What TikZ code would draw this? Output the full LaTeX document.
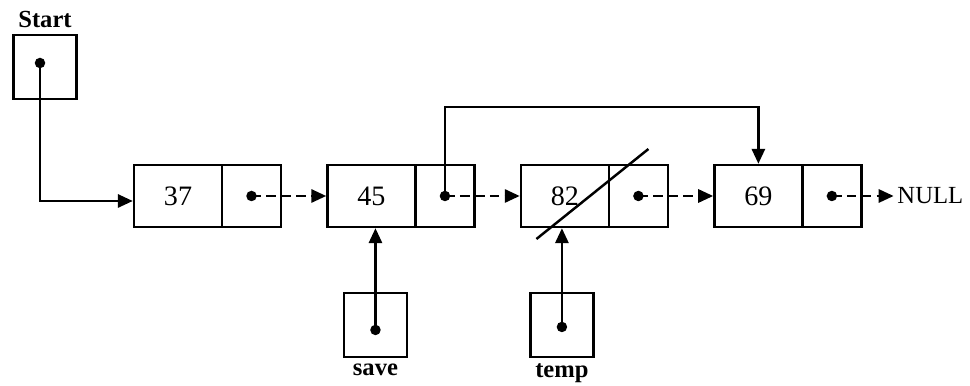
\documentclass[tikz,border=0pt]{standalone}
\usepackage{fontspec}
\setmainfont{Liberation Serif}
\usetikzlibrary{positioning, arrows.meta}

\begin{document}
\begin{tikzpicture}[
    node distance=0.88cm,
    datacell/.style={rectangle, draw, line width=1.4pt, minimum width=1.76cm, minimum height=1.24cm, inner sep=0pt, font=\fontsize{16}{18}\selectfont},
    ptrcell/.style={rectangle, draw, line width=1.4pt, minimum width=1.18cm, minimum height=1.24cm, inner sep=0pt},
    var/.style={rectangle, draw, line width=1.4pt, minimum width=1.26cm, minimum height=1.28cm, inner sep=0pt},
    vlabel/.style={font=\bfseries\fontsize{14}{16}\selectfont, inner sep=3pt},
    dot/.style={circle, fill, inner sep=0pt, minimum size=0.21cm},
    arrow/.style={-{Triangle[length=8.5pt, width=7.5pt]}, line width=1.4pt},
    link/.style={-{Triangle[length=8.5pt, width=7.5pt]}, line width=1.4pt, dash pattern=on 5.5pt off 3pt},
]
\useasboundingbox (0,0) rectangle (19.4,-7.72);

%% NODES
    % list cells
    \node[datacell] (d1) at (3.56,-3.92) {37};
    \node[ptrcell, right=-1.4pt of d1] (p1) {};
    \node[datacell, right=of p1] (d2) {45};
    \node[ptrcell, right=-1.4pt of d2] (p2) {};
    \node[datacell, right=of p2] (d3) {82};
    \node[ptrcell, right=-1.4pt of d3] (p3) {};
    \node[datacell, right=of p3] (d4) {69};
    \node[ptrcell, right=-1.4pt of d4] (p4) {};
    \node[font=\fontsize{14}{16}\selectfont, inner sep=2pt, right=0.62cm of p4] (null) {NULL};

    % pointer variables
    \node[var, label={[vlabel]above:Start}] (start) at (0.9,-1.34) {};
    \node[var, below=1.27cm of d2, xshift=0.08cm, label={[vlabel]below:save}] (save) {};
    \node[var, below=1.27cm of d3, xshift=-0.06cm, label={[vlabel]below:temp}] (temp) {};

    % dots
    \node[dot] (s0) at ([shift={(-0.1,0.08)}]start.center) {};
    \node[dot] (v1) at ([yshift=-0.1cm]save.center) {};
    \node[dot] (v2) at ([yshift=-0.04cm]temp.center) {};
    \node[dot] (q1) at (p1.center) {};
    \node[dot] (q2) at (p2.center) {};
    \node[dot] (q3) at (p3.center) {};
    \node[dot] (q4) at (p4.center) {};

    \coordinate (entry) at ([yshift=-0.1cm]d1.west);
    \coordinate (hop) at ([yshift=1.13cm]d4.north);

%% CONNECTIONS
    % Start -> 37
    \draw[arrow] (s0.center) |- (entry);

    % next links
    \draw[link] (q1.center) -- (d2.west);
    \draw[link] (q2.center) -- (d3.west);
    \draw[link] (q3.center) -- (d4.west);
    \draw[link] (q4.center) -- (null.west);

    % 45 skips 82
    \draw[arrow] (q2.center) |- (hop) -- (d4.north);

    % save, temp
    \draw[arrow] (v1.center) -- (v1 |- d2.south);
    \draw[arrow] (v2.center) -- (v2 |- d3.south);

    % 82 is removed
    \draw[line width=1.4pt] ([shift={(-0.57,-0.86)}]d3.center) -- ([shift={(1.67,0.94)}]d3.center);

\end{tikzpicture}
\end{document}
